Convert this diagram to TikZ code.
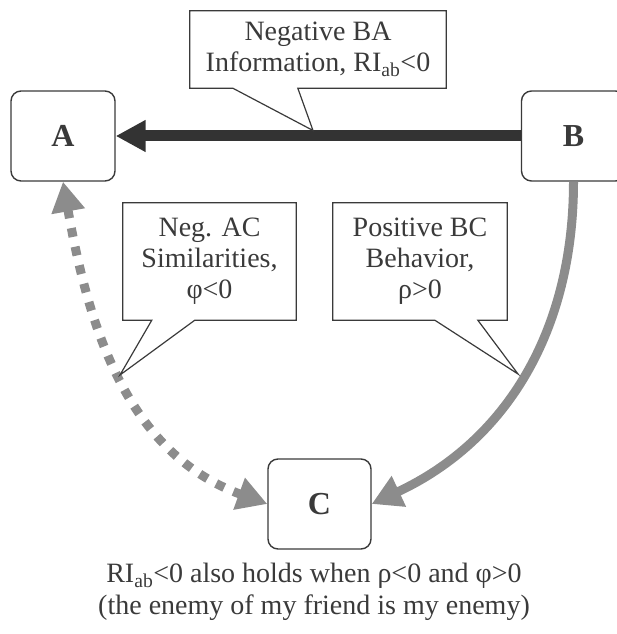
\documentclass[tikz,border=0pt]{standalone}
\usepackage{fontspec}
\setmainfont{Liberation Serif}
\usetikzlibrary{arrows.meta,calc,positioning}
\definecolor{inkgray}{HTML}{3A3A3A}
\definecolor{linkgray}{HTML}{8C8C8C}
\definecolor{darklink}{HTML}{333333}
\tikzset{
  agent/.style    = {draw=inkgray, line width=1.4pt, rounded corners=10pt,
                     minimum width=104pt, minimum height=90pt, text=inkgray,
                     font=\fontsize{32}{36}\selectfont\bfseries},
  note/.style     = {align=center, inner sep=0pt, text=inkgray,
                     font=\fontsize{28}{31}\selectfont},
  noteline/.style = {draw=inkgray, line width=1.2pt, line join=miter},
  info/.style     = {-{Triangle[length=30pt,width=30pt]}, line width=11pt, darklink},
  sim/.style      = {{Triangle[length=30pt,width=32pt]}-{Triangle[length=30pt,width=32pt]},
                     line width=9pt, linkgray, dash pattern=on 9pt off 10pt},
  behav/.style    = {-{Triangle[length=30pt,width=32pt]}, line width=9pt, linkgray},
}

\begin{document}
\begin{tikzpicture}[x=1pt,y=1pt]
  \useasboundingbox (0,0) rectangle (616,634);
  % the three parties
  \node[agent] (A) at (63,498)    {A};
  \node[agent] (B) at (573.5,498) {B};
  \node[agent, minimum width=103pt] (C) at (319.5,130) {C};
  % links
  \draw[info] (B.west) -- (A.east);
  \draw[sim] (A.south) to[out=-80,in=160] (C.west);
  \draw[behav] (B.south) to[out=-90,in=25] (C.east);
  \coordinate (tipba) at (313,503.5);
  \coordinate (tipac) at (120,259);
  \coordinate (tipbc) at (518,260);
  % callouts
  \node[note, minimum width=256pt, minimum height=77pt] (nba) at (318,584.5)
    {Negative BA\\Information, RI\textsubscript{ab}<0};
  \draw[noteline] (nba.south west) -- (nba.north west) -- (nba.north east)
    -- (nba.south east) -- ($(nba.south west)+(108,0)$) -- (tipba)
    -- ($(nba.south west)+(43,0)$) -- cycle;
  \node[note, minimum width=173pt, minimum height=117pt] (nac) at (209.5,372.5)
    {Neg. AC\\Similarities,\\φ<0};
  \draw[noteline] (nac.south west) -- (nac.north west) -- (nac.north east)
    -- (nac.south east) -- ($(nac.south west)+(72,0)$) -- (tipac)
    -- ($(nac.south west)+(29,0)$) -- cycle;
  \node[note, minimum width=174pt, minimum height=117pt] (nbc) at (420,372.5)
    {Positive BC\\Behavior,\\ρ>0};
  \draw[noteline] (nbc.south west) -- (nbc.north west) -- (nbc.north east)
    -- (nbc.south east) -- ($(nbc.south west)+(145,0)$) -- (tipbc)
    -- ($(nbc.south west)+(102,0)$) -- cycle;
  % caption
  \node[note, font=\fontsize{28}{32}\selectfont] (cap) at (314,42)
    {RI\textsubscript{ab}<0 also holds when ρ<0 and φ>0\\(the enemy of my friend is my enemy)};
\end{tikzpicture}
\end{document}
